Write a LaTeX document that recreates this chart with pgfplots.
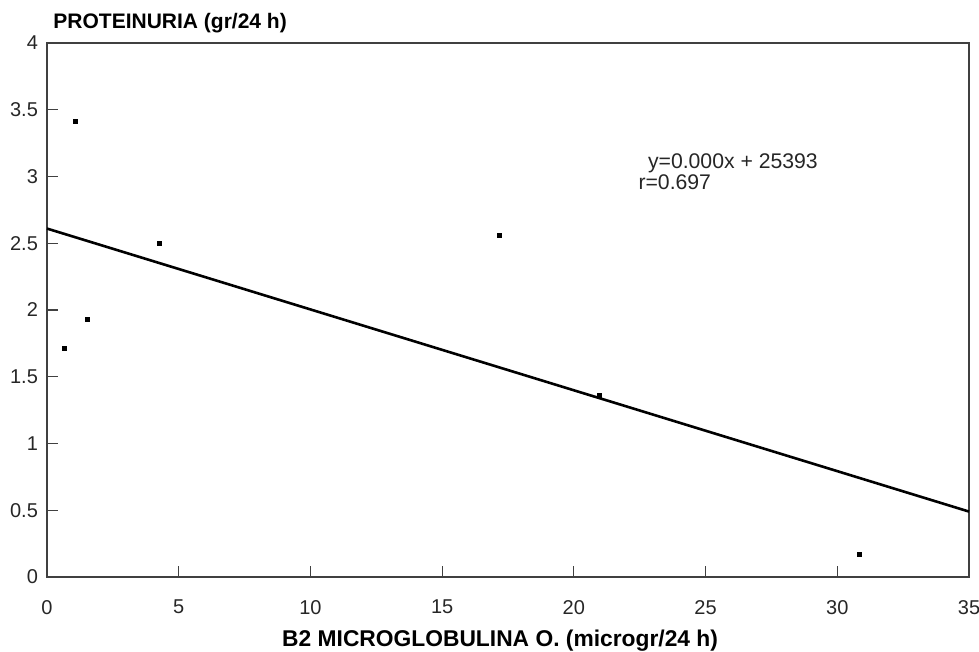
\documentclass[border=0pt]{standalone}
\usepackage{fontspec}
\setmainfont{Liberation Sans}
\usepackage{pgfplots}
\pgfplotsset{compat=1.18}
\begin{document}
\begin{tikzpicture}
\useasboundingbox (-23.5pt,-37.5pt) rectangle (466pt,288.5pt);
\begin{axis}[
  at={(0,0)}, anchor=south west,
  scale only axis, width=461pt, height=267pt,
  xmin=0, xmax=35, ymin=0, ymax=4,
  xtick={0,5,...,35}, ytick={0,0.5,...,4},
  xtick pos=bottom, ytick pos=left,
  tick align=inside, major tick length=5.3pt,
  axis line style={line width=0.6pt, black!75},
  tick style={line width=0.6pt, black!75},
  ticklabel style={font=\fontsize{10}{11}\selectfont, text=black!85},
  xticklabel style={yshift=-8pt},
  yticklabel style={xshift=-1pt},
  /pgf/number format/assume math mode=true,
  /pgf/number format/.cd, fixed, 1000 sep={},
  /pgfplots/.cd,
  clip=false,
]
\addplot[only marks, mark=square*, mark size=1pt, black] coordinates {
  (0.65,1.71) (1.06,3.41) (1.52,1.93) (4.25,2.50) (17.16,2.56) (20.96,1.36) (30.83,0.17)
};
\addplot[black, line width=1.3pt] coordinates {(0,2.61) (35,0.49)};
\node[anchor=west, font=\fontsize{10.6}{12}\selectfont, text=black!85, inner sep=0pt] at (axis cs:22.8,3.10) {y=0.000x + 25393};
\node[anchor=west, font=\fontsize{10.6}{12}\selectfont, text=black!85, inner sep=0pt] at (axis cs:22.44,2.96) {r=0.697};
\node[anchor=base west, font=\bfseries\fontsize{10.5}{12}\selectfont, inner sep=0pt] at (axis cs:0.23,4.11) {PROTEINURIA (gr/24 h)};
\node[anchor=base, font=\bfseries\fontsize{11.4}{13}\selectfont, inner sep=0pt] at (axis cs:17.2,-0.524) {B2 MICROGLOBULINA O. (microgr/24 h)};
\end{axis}
\end{tikzpicture}
\end{document}
